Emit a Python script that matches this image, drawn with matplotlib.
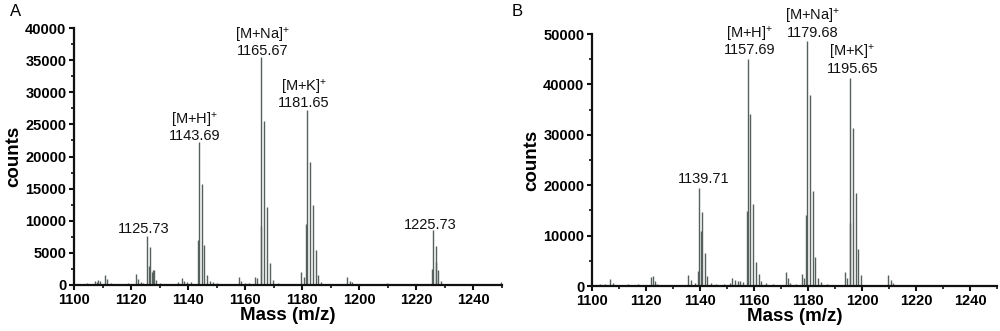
import matplotlib
matplotlib.use("Agg")
import matplotlib.pyplot as plt
from matplotlib.ticker import MultipleLocator

plt.rcParams['font.family'] = ['Liberation Sans', 'DejaVu Sans']
plt.rcParams['mathtext.fontset'] = 'custom'
plt.rcParams['mathtext.rm'] = 'Liberation Sans'
plt.rcParams['mathtext.it'] = 'Liberation Sans'
plt.rcParams['mathtext.bf'] = 'Liberation Sans:bold'

# ---------------- Panel A data ----------------
mz_a = [1104.5, 1106.0, 1107.5, 1108.0, 1108.5, 1109.0, 1110.7, 1111.7, 1113.0, 1115.0,
        1117.5, 1119.0, 1121.7, 1122.6, 1123.5, 1124.3,
        1125.73, 1126.2, 1126.73, 1127.3, 1127.73, 1128.1, 1128.7, 1130.0, 1132.5,
        1135.0, 1136.5, 1137.7, 1138.6, 1139.5, 1141.0,
        1143.4, 1143.69, 1144.69, 1145.69, 1146.69, 1147.7, 1148.6, 1150.0, 1152.5, 1155.0,
        1157.7, 1158.6, 1160.0, 1161.5, 1163.5, 1164.3,
        1165.4, 1165.67, 1166.67, 1167.67, 1168.67, 1169.7, 1171.5, 1174.0, 1176.5,
        1179.6, 1180.5, 1181.4, 1181.65, 1182.65, 1183.65, 1184.65, 1185.65, 1186.6,
        1189.0, 1192.0, 1195.7, 1196.6, 1197.5, 1200.0, 1204.0, 1209.7, 1214.0, 1219.0,
        1225.4, 1225.73, 1226.73, 1226.9, 1227.73, 1228.7, 1232.0, 1238.0, 1244.0, 1249.7]
int_a = [300, 200, 700, 500, 800, 600, 1600, 900, 300, 200,
         200, 300, 1700, 1000, 400, 300,
         7700, 3000, 5900, 2000, 2400, 2300, 800, 300, 200,
         200, 400, 1100, 700, 400, 400,
         7000, 22200, 15700, 6300, 1600, 700, 400, 300, 200, 200,
         1200, 700, 300, 300, 1300, 1100,
         9200, 35500, 25500, 12100, 3400, 800, 300, 200, 200,
         2100, 1300, 9500, 27300, 19200, 12400, 5500, 1600, 400,
         200, 200, 1300, 700, 400, 200, 200, 300, 150, 200,
         2500, 8600, 6100, 3600, 2300, 700, 200, 150, 150, 500]

# ---------------- Panel B data ----------------
mz_b = [1103.0, 1105.0, 1106.7, 1107.6, 1110.0, 1113.5, 1117.0, 1120.0,
        1121.7, 1122.6, 1123.4, 1124.0, 1127.0, 1130.0, 1133.5,
        1135.7, 1136.5, 1138.0, 1139.4, 1139.71, 1140.4, 1140.71, 1141.71, 1142.71, 1144.0, 1146.0,
        1149.0, 1151.0, 1152.0, 1153.0, 1154.0, 1155.0, 1156.0,
        1157.4, 1157.69, 1158.69, 1159.69, 1160.69, 1161.7, 1162.7, 1164.5, 1167.0,
        1171.7, 1172.6, 1173.5, 1175.5, 1177.7, 1178.6,
        1179.4, 1179.68, 1180.68, 1181.68, 1182.68, 1183.7, 1184.7, 1187.0, 1190.0,
        1193.7, 1194.6, 1195.4, 1195.65, 1196.65, 1197.65, 1198.65, 1199.6, 1203.0, 1206.0,
        1209.7, 1210.6, 1211.5, 1215.0, 1222.0, 1230.0, 1240.0]
int_b = [300, 300, 1300, 600, 200, 400, 300, 200,
         1800, 2000, 900, 400, 200, 200, 200,
         2100, 1200, 600, 3000, 19500, 11000, 14700, 6500, 1900, 500, 300,
         300, 500, 1500, 1200, 1000, 900, 700,
         14800, 45000, 34100, 16200, 4700, 2300, 1000, 500, 300,
         2700, 1600, 600, 300, 2300, 1500,
         14000, 48700, 37900, 18900, 5800, 1500, 800, 300, 200,
         2800, 1600, 12500, 41300, 31300, 18500, 7300, 2100, 200, 200,
         2100, 1100, 500, 200, 150, 150, 150]

# annotation: (text, x-centre, y of last-line baseline)
annot_a = [("1125.73", 1124.3, 8050),
           ("[M+H]$^{+}$\n1143.69", 1142.4, 22570),
           ("[M+Na]$^{+}$\n1165.67", 1166.1, 35800),
           ("[M+K]$^{+}$\n1181.65", 1180.5, 27660),
           ("1225.73", 1224.7, 8670)]
annot_b = [("1139.71", 1141.5, 20500),
           ("[M+H]$^{+}$\n1157.69", 1158.5, 46030),
           ("[M+Na]$^{+}$\n1179.68", 1181.6, 49470),
           ("[M+K]$^{+}$\n1195.65", 1196.5, 42320)]

fig = plt.figure(figsize=(10, 3.31), dpi=100)
W, H = 1000, 331
axA = fig.add_axes([74 / W, (H - 285) / H, 428 / W, 257 / H])
axB = fig.add_axes([592 / W, (H - 286) / H, 405 / W, 252 / H])

line_col = '#56605f'

def style(ax, mz, inten, ymax, ymajor, yminor, annots):
    ax.vlines(mz, 0, inten, color=line_col, linewidth=1.0)
    ax.set_xlim(1100, 1250)
    ax.set_ylim(0, ymax)
    for s in ['top', 'right']:
        ax.spines[s].set_visible(False)
    for s in ['left', 'bottom']:
        ax.spines[s].set_linewidth(1.6)
        ax.spines[s].set_color('#111111')
    ax.xaxis.set_major_locator(MultipleLocator(20))
    ax.xaxis.set_minor_locator(MultipleLocator(10))
    ax.yaxis.set_major_locator(MultipleLocator(ymajor))
    ax.yaxis.set_minor_locator(MultipleLocator(yminor))
    ax.tick_params(which='major', direction='out', length=3.5, width=1.5, pad=2,
                   labelsize=10.5, color='#111111')
    ax.tick_params(which='minor', direction='out', length=2.5, width=1.2, color='#111111')
    for lab in ax.get_xticklabels() + ax.get_yticklabels():
        lab.set_fontweight('bold')
    ax.set_xlabel('Mass (m/z)', fontsize=13.5, fontweight='bold', labelpad=0)
    ax.set_ylabel('counts', fontsize=13.5, fontweight='bold', labelpad=2)
    for txt, x, y in annots:
        ax.text(x, y, txt, ha='center', va='baseline', ma='center', fontsize=10.5,
                linespacing=0.95, color='#111111', clip_on=False)

style(axA, mz_a, int_a, 40000, 5000, 2500, annot_a)
style(axB, mz_b, int_b, 50000, 10000, 5000, annot_b)

fig.text(10 / W, 1 - 16 / H, 'A', fontsize=12, ha='left', va='baseline')
fig.text(512 / W, 1 - 16 / H, 'B', fontsize=12, ha='left', va='baseline')

fig.savefig('out.png', dpi=100)
